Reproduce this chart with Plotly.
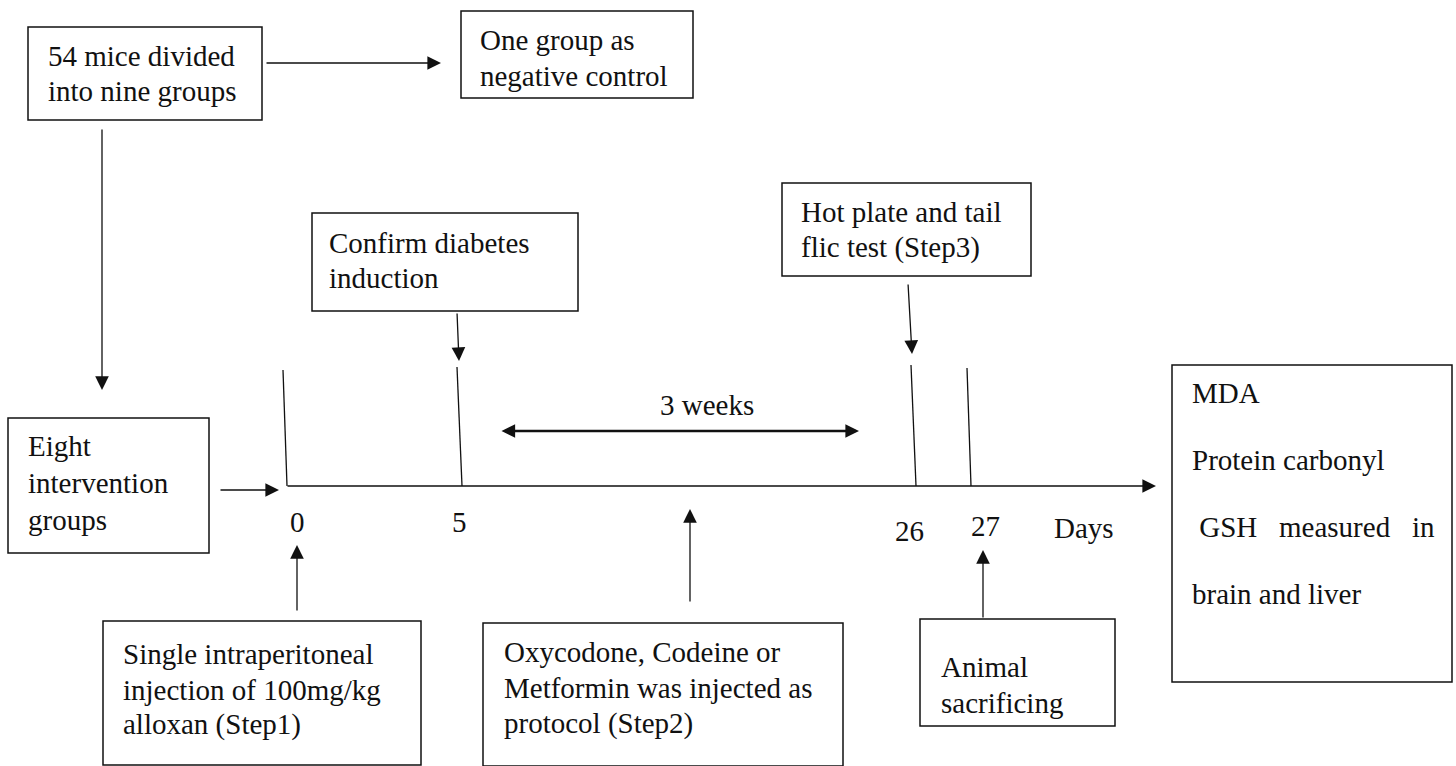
import plotly.graph_objects as go

# ---------------- data (texts) ----------------
txt_mice = ["54 mice divided", "into nine groups"]
txt_control = ["One group as", "negative control"]
txt_eight = ["Eight", "intervention", "groups"]
txt_confirm = ["Confirm diabetes", "induction"]
txt_hot = ["Hot plate and tail", "flic test (Step3)"]
txt_step1 = ["Single intraperitoneal", "injection of 100mg/kg", "alloxan (Step1)"]
txt_step2 = ["Oxycodone, Codeine or", "Metformin was injected as", "protocol (Step2)"]
txt_animal = ["Animal", "sacrificing"]
txt_mda = ["MDA", "Protein carbonyl",
           "\u00a0GSH\u00a0\u00a0\u00a0measured\u00a0\u00a0\u00a0in", "brain and liver"]
day_labels = ["0", "5", "26", "27"]
unit_label = "Days"
span_label = "3 weeks"

# ---------------- layout (pixel positions) ----------------
W, H = 1456, 766
FONT = "Liberation Serif, Times New Roman, serif"
FS = 29
INK = "#111111"

# box: (x0, y0, x1, y1, text_x, [line y centres], lines)
boxes = [
    (28, 27, 262, 120, 46, [56, 91], txt_mice),
    (461, 11, 693, 98, 478, [40, 76], txt_control),
    (8, 418, 209, 553, 26, [446, 483, 520], txt_eight),
    (312, 213, 578, 311, 327, [243, 278], txt_confirm),
    (782, 183, 1031, 276, 799, [212, 247], txt_hot),
    (103, 621, 421, 765, 121, [654, 690, 724], txt_step1),
    (483, 623, 843, 766, 502, [652, 688, 723], txt_step2),
    (920, 619, 1115, 726, 939, [667, 703], txt_animal),
    (1172, 365, 1452, 682, 1190, [393, 460, 527, 594], txt_mda),
]

# arrows: (tail_x, tail_y, tip_x, tip_y)
arrows = [
    (265, 63, 441, 63),
    (102, 128, 102, 390),
    (219, 490, 279, 490),
    (457, 312, 459, 361),
    (908, 283, 912, 354),
    (297, 612, 297, 545),
    (690, 603, 690, 509),
    (983, 619, 983, 550),
    (286, 486, 1156, 486),
]

# timeline ticks: (x_top, y_top, x_bottom, y_bottom)
ticks = [
    (283, 370, 287, 486),
    (457, 367, 462, 486),
    (911, 365, 916, 486),
    (967, 368, 971, 486),
]
day_pos = [(297, 522), (459, 522), (909, 531), (985, 526)]
unit_pos = (1084, 528)
span_arrow = (500, 859, 431)
span_pos = (707, 405)

fig = go.Figure()
shapes = []
annotations = []

for x0, y0, x1, y1, tx, ys, lines in boxes:
    shapes.append(dict(type="rect", xref="x", yref="y", x0=x0, y0=y0, x1=x1, y1=y1,
                       line=dict(color=INK, width=1.5), fillcolor="rgba(0,0,0,0)"))
    for yy, t in zip(ys, lines):
        annotations.append(dict(x=tx, y=yy, xref="x", yref="y", text=t, showarrow=False,
                                xanchor="left", yanchor="middle",
                                font=dict(family=FONT, size=FS, color=INK)))

for xt, yt, xb, yb in ticks:
    shapes.append(dict(type="line", xref="x", yref="y", x0=xt, y0=yt, x1=xb, y1=yb,
                       line=dict(color=INK, width=1.3)))

for tx0, ty0, hx, hy in arrows:
    annotations.append(dict(x=hx, y=hy, ax=tx0, ay=ty0, xref="x", yref="y",
                            axref="x", ayref="y", text="", showarrow=True,
                            arrowhead=2, arrowsize=2.1, arrowwidth=1.3,
                            arrowcolor=INK, standoff=0, startstandoff=0))

# 3 weeks double arrow
sx0, sx1, sy = span_arrow
annotations.append(dict(x=sx1, y=sy, ax=sx0, ay=sy, xref="x", yref="y",
                        axref="x", ayref="y", text="", showarrow=True,
                        arrowhead=2, startarrowhead=2, arrowside="end+start",
                        arrowsize=1.05, startarrowsize=1.05, arrowwidth=2.6,
                        arrowcolor=INK))
annotations.append(dict(x=span_pos[0], y=span_pos[1], xref="x", yref="y",
                        text=span_label, showarrow=False, xanchor="center",
                        yanchor="middle", font=dict(family=FONT, size=FS, color=INK)))

for (px, py), lab in zip(day_pos, day_labels):
    annotations.append(dict(x=px, y=py, xref="x", yref="y", text=lab, showarrow=False,
                            xanchor="center", yanchor="middle",
                            font=dict(family=FONT, size=FS, color=INK)))
annotations.append(dict(x=unit_pos[0], y=unit_pos[1], xref="x", yref="y", text=unit_label,
                        showarrow=False, xanchor="center", yanchor="middle",
                        font=dict(family=FONT, size=FS, color=INK)))

fig.update_layout(
    width=W, height=H, margin=dict(l=0, r=0, t=0, b=0),
    paper_bgcolor="white", plot_bgcolor="white",
    shapes=shapes, annotations=annotations, showlegend=False,
    xaxis=dict(range=[0, W], visible=False, fixedrange=True),
    yaxis=dict(range=[H, 0], visible=False, fixedrange=True),
)

fig.write_html("out.html", config={"displayModeBar": False},
               post_script="document.body.style.margin='0';document.body.style.overflow='hidden';")
